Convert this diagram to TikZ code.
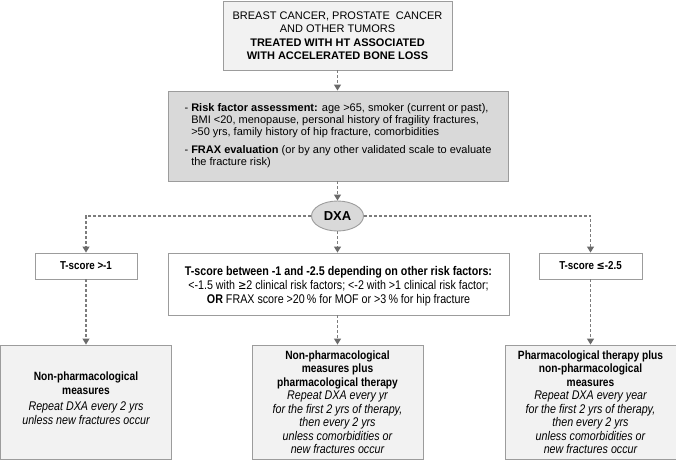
\documentclass[tikz,border=0pt]{standalone}
\usepackage{fontspec}
\setmainfont{Liberation Sans}
\newfontfamily\nar[FakeStretch=0.85]{Liberation Sans}
\usetikzlibrary{arrows.meta,shapes.geometric}
\definecolor{linegray}{HTML}{7C7C7C}
\definecolor{tipgray}{HTML}{6A6A6A}
\definecolor{boxline}{HTML}{9C9C9C}
\definecolor{lightfill}{HTML}{F2F2F2}
\definecolor{midfill}{HTML}{D9D9D9}
\newcommand{\itl}[1]{{\fontsize{12.6}{13.5}\selectfont\itshape #1}}
\begin{document}
\begin{tikzpicture}[x=1pt,y=-1pt,
  conn/.style={draw=linegray, line width=1.2pt, dash pattern=on 3pt off 2pt,
    -{Triangle[length=6pt,width=7pt,color=tipgray]}},
  box/.style={draw=boxline, line width=0.9pt, rectangle, inner sep=0pt, align=center},
  tbox/.style={box, fill=white, font=\nar\bfseries\fontsize{11.5}{13}\selectfont},
  rbox/.style={box, fill=lightfill, font=\nar\fontsize{12}{13.5}\selectfont, minimum width=171pt, minimum height=114pt},
  txt/.style={inner sep=0pt, align=center, font=\nar\fontsize{12}{13.5}\selectfont}
]
\useasboundingbox (0,0) rectangle (676,459);

\node[box, fill=lightfill, minimum width=229pt, minimum height=69pt,
  font=\fontsize{11}{13.5}\selectfont] (top) at (337.5,35.5)
  {BREAST CANCER, PROSTATE\ \ CANCER\\ AND OTHER TUMORS\\
   \textbf{TREATED WITH HT ASSOCIATED}\\ \textbf{WITH ACCELERATED BONE LOSS}};

\node[box, fill=midfill, minimum width=340pt, minimum height=90pt, align=left,
  font=\fontsize{11}{12}\selectfont] (risk) at (338,136)
  {- \textbf{Risk factor assessment:} age >65, smoker (current or past),\\
   \hphantom{- }BMI <20, menopause, personal history of fragility fractures,\\
   \hphantom{- }>50 yrs, family history of hip fracture, comorbidities\\[6pt]
   - \textbf{FRAX evaluation} (or by any other validated scale to evaluate\\
   \hphantom{- }the fracture risk)};

\node[ellipse, draw=boxline, line width=0.9pt, fill=midfill, minimum width=52pt,
  minimum height=30pt, inner sep=0pt, font=\bfseries\fontsize{13}{15}\selectfont]
  (dxa) at (337.5,216) {DXA};

\node[tbox, minimum width=102pt, minimum height=26pt] (tl) at (86,266) {T-score >-1};
\node[tbox, minimum width=103pt, minimum height=26pt] (tr) at (590.5,266) {T-score {\fontspec{DejaVu Sans}\scalebox{0.85}[1]{≤}}-2.5};
\node[box, fill=white, minimum width=341pt, minimum height=62pt] (tm) at (338.5,284) {};
\node[txt, font=\nar\fontsize{12.6}{14}\selectfont] (tmt) at (338.5,286)
  {\textbf{T-score between -1 and -2.5 depending on other risk factors:}\\
   <-1.5 with {\fontspec{DejaVu Sans}\scalebox{0.8}[1]{≥}}2 clinical risk factors; <-2 with >1 clinical risk factor;\\
   \textbf{OR} FRAX score >20\,\% for MOF or >3\,\% for hip fracture};

\node[rbox] (bl) at (86,402) {};
\node[txt] (blt) at (86,398)
  {\textbf{Non-pharmacological}\\ \textbf{measures}\\[3pt]
   \itl{Repeat DXA every 2 yrs}\\ \itl{unless new fractures occur}};
\node[rbox] (bm) at (337.5,402)
  {\textbf{Non-pharmacological}\\ \textbf{measures plus}\\ \textbf{pharmacological therapy}\\
   \itl{Repeat DXA every yr}\\ \itl{for the first 2 yrs of therapy,}\\
   \itl{then every 2 yrs}\\ \itl{unless comorbidities or}\\ \itl{new fractures occur}};
\node[rbox] (br) at (590.5,402)
  {\textbf{Pharmacological therapy plus}\\ \textbf{non-pharmacological}\\ \textbf{measures}\\
   \itl{Repeat DXA every year}\\ \itl{for the first 2 yrs of therapy,}\\
   \itl{then every 2 yrs}\\ \itl{unless comorbidities or}\\ \itl{new fractures occur}};

\draw[conn] (top.south) -- (top.south |- risk.north);
\draw[conn] (risk.south -| dxa.north) -- (dxa.north);
\draw[conn] (dxa.west) -| (tl.north);
\draw[conn] (dxa.east) -| (tr.north);
\draw[conn] (dxa.south) -- (dxa.south |- tm.north);
\draw[conn] (tl.south) -- (tl.south |- bl.north);
\draw[conn] (tm.south -| bm.north) -- (bm.north);
\draw[conn] (tr.south) -- (tr.south |- br.north);
\end{tikzpicture}
\end{document}
